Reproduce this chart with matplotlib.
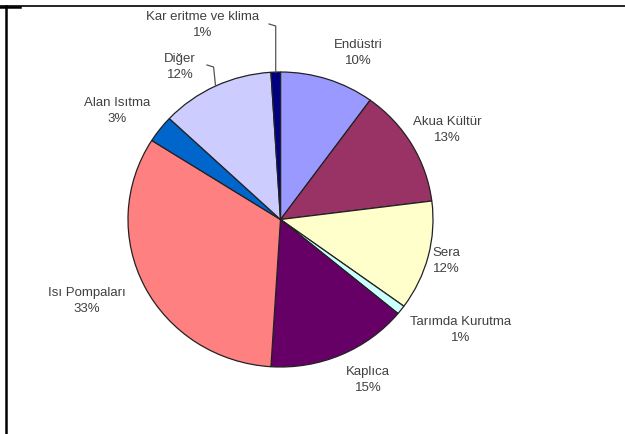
import matplotlib.pyplot as plt
from matplotlib.lines import Line2D
import numpy as np

W, H = 625, 434

categories = ["Endüstri", "Akua Kültür", "Sera", "Tarımda Kurutma", "Kaplıca",
              "Isı Pompaları", "Alan Isıtma", "Diğer", "Kar eritme ve klima"]
shares = [10, 13, 12, 1, 15, 33, 3, 12, 1]
colors = ["#9999FF", "#993366", "#FFFFCC", "#CCFFFF", "#660066",
          "#FF8080", "#0066CC", "#CCCCFF", "#000080"]

# label block centres in pixels (x from left, y from top)
label_px = [(358, 53), (447, 130), (446, 261), (461, 330), (368, 380),
            (87, 301), (117, 111), (180, 67), (203, 25)]
# labels that get a leader line: start of the line next to the text
leader_start = {"Diğer": (207, 65), "Kar eritme ve klima": (269, 24)}

plt.rcParams["font.family"] = ["Liberation Sans", "DejaVu Sans"]

fig = plt.figure(figsize=(W / 100, H / 100), dpi=100)
fig.patch.set_facecolor("white")

# pie is slightly squashed in the source image
cx, cy, rx, ry = 280.5, 219.5, 152.5, 147.5
ax = fig.add_axes([(cx - rx) / W, 1 - (cy + ry) / H, 2 * rx / W, 2 * ry / H])
wedges, _ = ax.pie(shares, colors=colors, startangle=90, counterclock=False,
                   wedgeprops=dict(edgecolor="#222222", linewidth=0.9))
ax.set_aspect("auto")
ax.set_xlim(-1, 1)
ax.set_ylim(-1, 1)

for name, pct, (px, py) in zip(categories, shares, label_px):
    fig.text(px / W, 1 - py / H, f"{name}\n{pct}%", ha="center", va="center",
             fontsize=9.5, color="#404040", linespacing=1.35)

for w, name in zip(wedges, categories):
    if name not in leader_start:
        continue
    mid = np.deg2rad((w.theta1 + w.theta2) / 2)
    ex, ey = ax.transData.transform((np.cos(mid), np.sin(mid)))
    ey = H - ey
    sx, sy = leader_start[name]
    xs = [sx, ex - 2 if name == "Diğer" else ex, ex]
    ys = [sy, sy + 2, ey]
    fig.add_artist(Line2D([x / W for x in xs], [1 - y / H for y in ys],
                          transform=fig.transFigure, color="#555555", lw=0.9))

# frame lines of the screenshot
fig.add_artist(Line2D([0, 1], [1 - 6 / H] * 2, transform=fig.transFigure,
                      color="black", lw=1.2))
fig.add_artist(Line2D([0, 20 / W], [1 - 6.5 / H] * 2, transform=fig.transFigure,
                      color="black", lw=1.8))
fig.add_artist(Line2D([6 / W] * 2, [0, 1 - 6 / H], transform=fig.transFigure,
                      color="black", lw=1.8))

fig.savefig("out.png", dpi=100)
